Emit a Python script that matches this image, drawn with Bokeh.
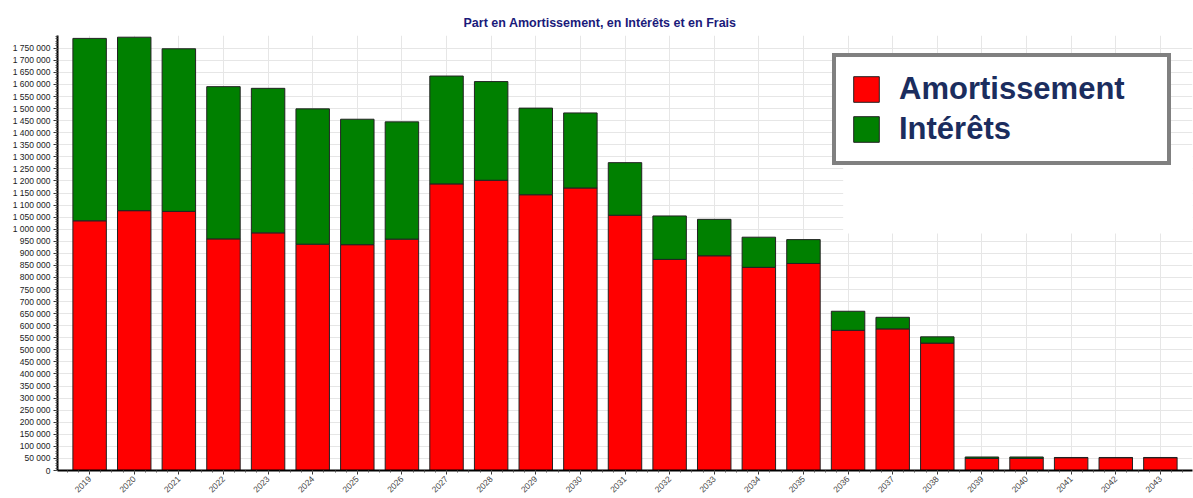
import numpy as np
from bokeh.plotting import figure
from bokeh.models import (ColumnDataSource, Range1d, FixedTicker, CustomJSTickFormatter,
                          Legend, LegendItem, BoxAnnotation)
from bokeh.embed import file_html
from bokeh.resources import INLINE

years = ["2019", "2020", "2021", "2022", "2023", "2024", "2025", "2026", "2027", "2028",
         "2029", "2030", "2031", "2032", "2033", "2034", "2035", "2036", "2037", "2038",
         "2039", "2040", "2041", "2042", "2043"]
amortissement = [1035000, 1077000, 1074000, 960000, 985000, 938000, 936000, 959000, 1188000, 1203000,
                 1143000, 1171000, 1058000, 875000, 890000, 842000, 858000, 581000, 587000, 528000,
                 50000, 50000, 53000, 53000, 53000]
interets = [756000, 719000, 674000, 631000, 599000, 561000, 520000, 486000, 447000, 409000,
            359000, 311000, 218000, 180000, 151000, 125000, 99000, 79000, 48000, 26000,
            6000, 6000, 1000, 1000, 1000]
title_text = "Part en Amortissement, en Intérêts et en Frais"
series_names = ["Amortissement", "Intérêts"]
series_colors = ["#ff0000", "#008000"]

n = len(years)
src = ColumnDataSource(dict(x=list(range(n)), year=years, amort=amortissement, inter=interets))

FONT = "Liberation Sans"

p = figure(width=1193, height=498, x_range=Range1d(-0.72, n - 1 + 0.72),
           y_range=Range1d(0, 1803000), output_backend="svg", toolbar_location=None,
           min_border_left=57, min_border_right=1, min_border_top=35, min_border_bottom=27)
p.outline_line_color = None
p.background_fill_color = "white"
p.border_fill_color = "white"

p.title.text = title_text
p.title.align = "left"
p.title.offset = 406
p.title.text_font = FONT
p.title.text_font_size = "12.5px"
p.title.text_font_style = "bold"
p.title.text_color = "#1a1a7a"
p.title.standoff = 12

rs = p.vbar_stack(["amort", "inter"], x="x", width=0.75, color=series_colors,
                  line_color="#222222", line_width=1, source=src)

# axes
p.xaxis.ticker = FixedTicker(ticks=list(range(n)),
                             minor_ticks=list(np.arange(-0.75, n - 0.5 + 0.01, 0.25)))
p.xaxis.major_label_overrides = {i: y for i, y in enumerate(years)}
p.xaxis.major_label_orientation = np.pi / 4
p.yaxis.ticker = FixedTicker(ticks=list(range(0, 1750001, 50000)),
                             minor_ticks=list(range(0, 1803001, 10000)))
p.yaxis.formatter = CustomJSTickFormatter(
    code="return tick.toFixed(0).replace(/\\B(?=(\\d{3})+(?!\\d))/g, ' ');")
for ax in (p.xaxis, p.yaxis):
    ax.axis_line_color = "black"
    ax.axis_line_width = 2
    ax.major_tick_line_color = "#333333"
    ax.minor_tick_line_color = "#555555"
    ax.major_tick_in = 0
    ax.major_tick_out = 4
    ax.minor_tick_in = 0
    ax.minor_tick_out = 2
    ax.major_label_text_font = FONT
    ax.major_label_text_font_size = "8.5px"
    ax.major_label_text_color = "#222222"
    ax.major_label_standoff = 3
p.xaxis.major_label_text_color = "#444444"

p.xgrid.grid_line_color = "#e6e6e6"
p.ygrid.grid_line_color = "#e6e6e6"

mask = BoxAnnotation(left=16.89, right=n - 1 + 0.72, bottom=982000, top=1322000,
                     fill_color="white", fill_alpha=1.0, line_color=None)
p.add_layout(mask)

legend = Legend(items=[LegendItem(label=series_names[i], renderers=[rs[i]]) for i in range(2)],
                location=(775, 305))
legend.label_text_font = FONT
legend.label_text_font_size = "31px"
legend.label_text_font_style = "bold"
legend.label_text_color = "#1b2d5e"
legend.label_text_line_height = 0.9
legend.glyph_width = 32
legend.glyph_height = 32
legend.label_height = 30
legend.label_width = 254
legend.label_standoff = 17
legend.spacing = 4
legend.padding = 14
legend.margin = 0
legend.border_line_color = "#808080"
legend.border_line_alpha = 1.0
legend.border_line_width = 4
legend.background_fill_color = "white"
legend.background_fill_alpha = 1.0
p.add_layout(legend)

open("out.html", "w").write(file_html(p, INLINE))
